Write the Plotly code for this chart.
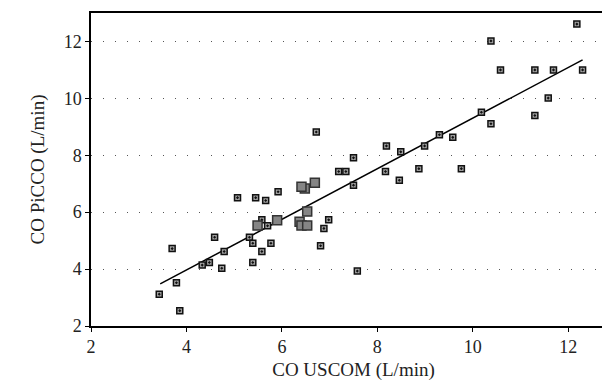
import plotly.graph_objects as go

# Small markers (single observations)
small_x = [3.43, 3.70, 3.79, 3.86, 4.33, 4.48, 4.59, 4.74, 4.79, 5.07, 5.32, 5.39, 5.39, 5.45,
           5.58, 5.58, 5.66, 5.70, 5.77, 5.92, 6.72, 6.81, 6.88, 6.98, 7.19, 7.34, 7.50, 7.50,
           7.58, 8.17, 8.19, 8.46, 8.49, 8.87, 8.99, 9.30, 9.58, 9.76, 10.18, 10.38, 10.38,
           10.58, 11.30, 11.30, 11.58, 11.69, 12.18, 12.30]
small_y = [3.12, 4.72, 3.52, 2.54, 4.14, 4.23, 5.12, 4.03, 4.62, 6.51, 5.12, 4.91, 4.23, 6.51,
           5.73, 4.62, 6.41, 5.52, 4.91, 6.72, 8.82, 4.82, 5.43, 5.73, 7.43, 7.43, 7.91, 6.95,
           3.93, 7.43, 8.33, 7.12, 8.12, 7.53, 8.33, 8.72, 8.63, 7.53, 9.51, 9.11, 12.02,
           11.00, 11.00, 9.40, 10.01, 11.00, 12.61, 11.00]

# Large markers
big_x = [5.49, 5.90, 6.37, 6.41, 6.53, 6.53, 6.48, 6.41, 6.69]
big_y = [5.53, 5.72, 5.66, 5.53, 5.53, 6.02, 6.83, 6.89, 7.03]

# Regression line endpoints
fit_x = [3.45, 12.30]
fit_y = [3.48, 11.35]

x_ticks = [2, 4, 6, 8, 10, 12]
y_ticks = [2, 4, 6, 8, 10, 12]

fig = go.Figure()
fig.add_trace(go.Scatter(x=fit_x, y=fit_y, mode="lines",
                         line=dict(color="black", width=1.5), hoverinfo="skip"))
fig.add_trace(go.Scatter(x=small_x, y=small_y, mode="markers",
                         marker=dict(symbol="square-dot", size=6, color="#a0a0a0",
                                     line=dict(color="#111111", width=1.5))))
fig.add_trace(go.Scatter(x=big_x, y=big_y, mode="markers",
                         marker=dict(symbol="square", size=9, color="#858585",
                                     line=dict(color="#333333", width=1.5))))

font = "Liberation Serif"
fig.update_layout(
    width=610, height=389,
    margin=dict(l=83, r=2, t=5, b=71, autoexpand=False),
    paper_bgcolor="white", plot_bgcolor="white",
    showlegend=False,
    font=dict(family=font, size=18, color="#222222"),
)
fig.update_xaxes(
    range=[2, 13], tickvals=x_ticks, ticks="outside", ticklen=4, tickcolor="black",
    showline=True, linecolor="black", linewidth=1.5, mirror=True,
    showgrid=False, zeroline=False, automargin=False,
    title=dict(text="CO USCOM (L/min)", font=dict(family=font, size=19), standoff=6),
    tickfont=dict(family=font, size=18),
)
fig.update_yaxes(
    range=[2, 13], tickvals=y_ticks, ticks="outside", ticklen=4, tickcolor="black",
    showline=True, linecolor="black", linewidth=1.5, mirror=True,
    showgrid=True, gridcolor="#555555", gridwidth=1, griddash="1px,11px",
    zeroline=False, automargin=False,
    title=dict(text="CO PiCCO (L/min)", font=dict(family=font, size=19), standoff=14),
    tickfont=dict(family=font, size=18),
)
fig.write_html("out.html")
